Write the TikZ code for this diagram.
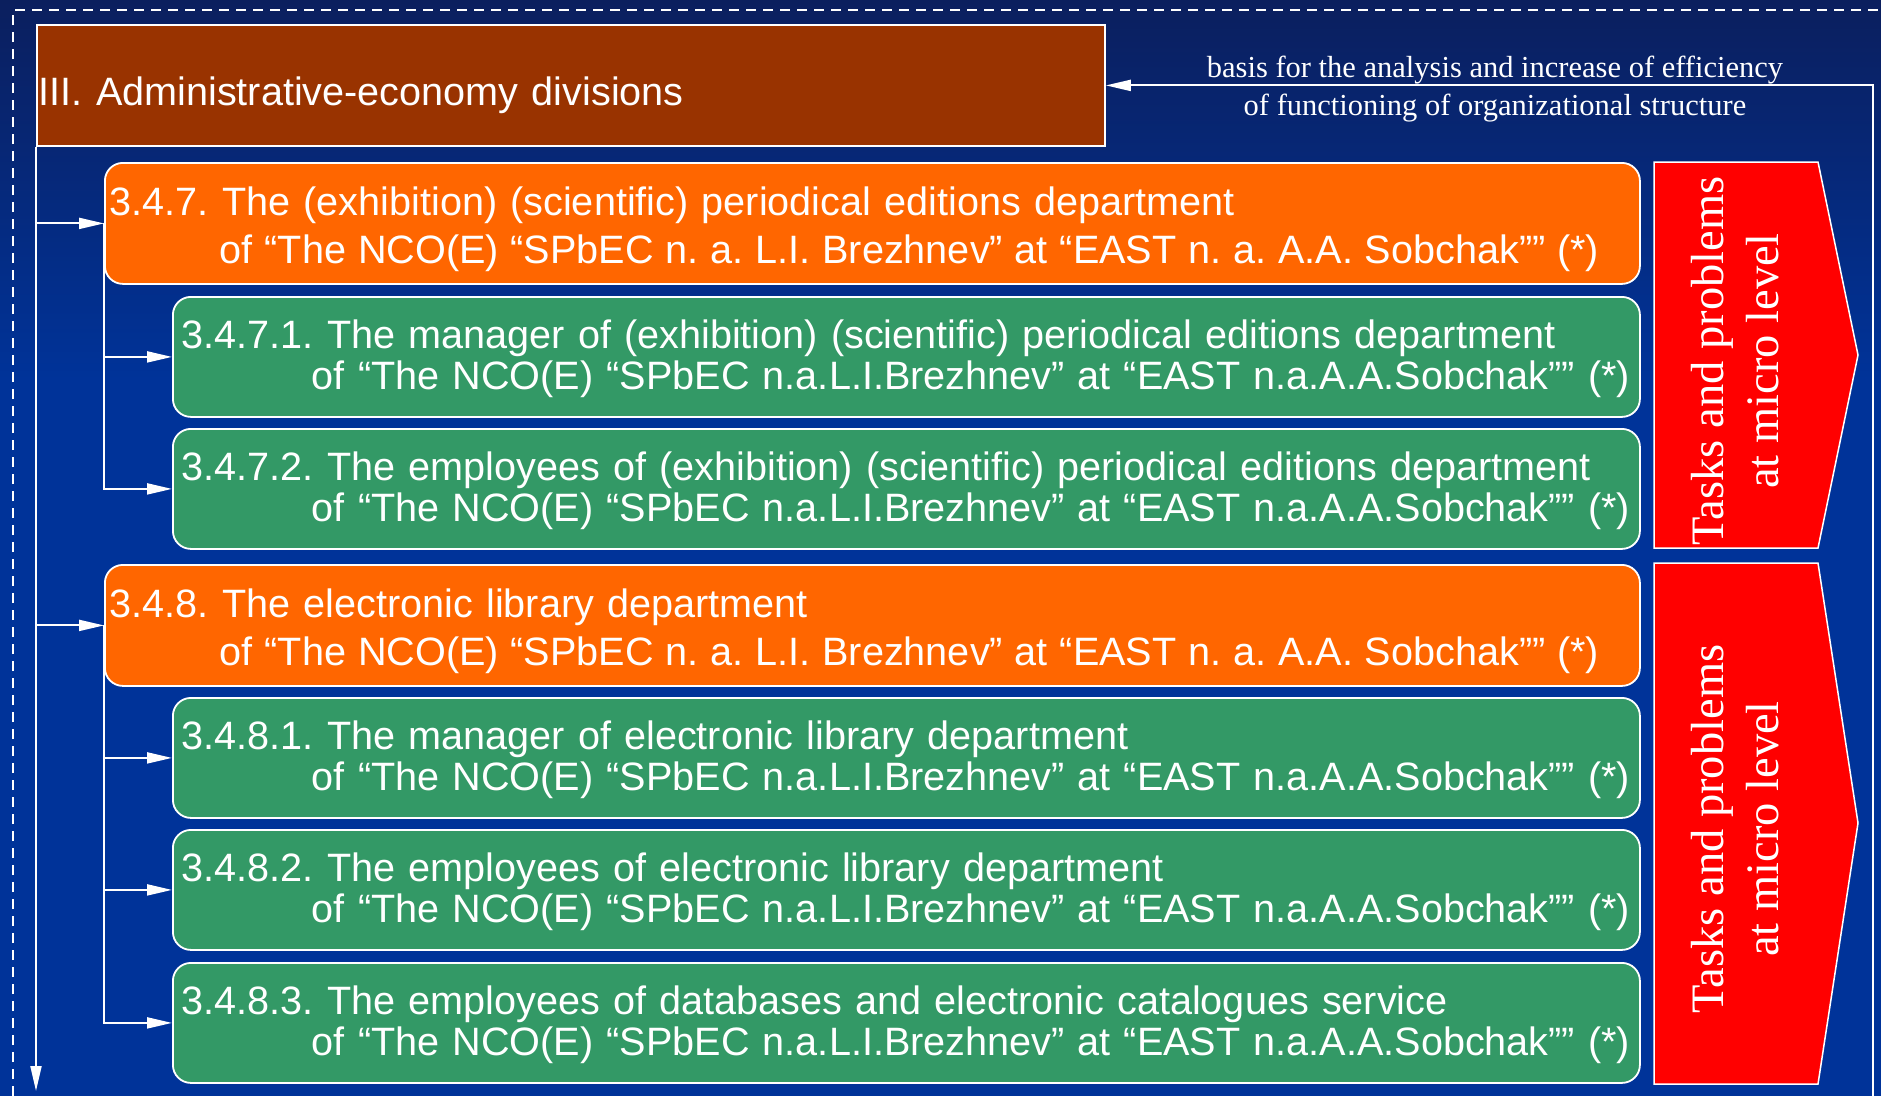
\documentclass[tikz,border=0pt]{standalone}
\usepackage{fontspec}
\setmainfont{Liberation Serif}
\setsansfont{Liberation Sans}
\usetikzlibrary{arrows.meta,calc}
\definecolor{bgblue}{HTML}{003399}
\definecolor{bgtop}{HTML}{0B1F5E}
\definecolor{orangec}{HTML}{FF6600}
\definecolor{brownc}{HTML}{993300}
\definecolor{greenc}{HTML}{339966}
\definecolor{redc}{HTML}{FF0000}
\newcommand{\osecond}[1]{\hspace*{110pt}\mbox{\spaceskip=11.9pt plus 2pt minus 2pt #1}}
\newcommand{\gsecond}[1]{\hspace*{130pt}\mbox{#1}}
\tikzset{
  box/.style={draw=white, line width=1.8pt, rounded corners=18pt, anchor=north west,
    text=white, align=left, inner ysep=0pt},
  obox/.style={box, fill=orangec, minimum width=1535pt, minimum height=121pt,
    inner xsep=5pt, text width=1525pt, font=\sffamily\fontsize{39.6}{48}\selectfont},
  gbox/.style={box, fill=greenc, minimum width=1467pt, minimum height=120pt,
    inner xsep=9pt, text width=1449pt, font=\sffamily\fontsize{39.6}{41}\selectfont},
  headbox/.style={draw=white, line width=1.8pt, fill=brownc, anchor=north west,
    minimum width=1068pt, minimum height=121pt, text width=1064pt, inner xsep=2pt,
    text height=50pt, text depth=9pt,
    align=left, text=white, font=\sffamily\fontsize{39.6}{48}\selectfont},
  conn/.style={draw=white, line width=2pt},
  arr/.style={conn, -{Triangle[length=25pt,width=11pt]}},
  redshape/.style={fill=redc, draw=white, line width=1.5pt},
  redtext/.style={rotate=90, text=white, align=center, inner sep=0pt,
    font=\rmfamily\fontsize{46.5}{55}\selectfont},
  toplabel/.style={text=white, align=center, inner sep=0pt,
    font=\rmfamily\fontsize{30.5}{38}\selectfont},
}
\begin{document}
\frenchspacing
\begin{tikzpicture}[x=1pt,y=-1pt]
\useasboundingbox (0,0) rectangle (1881,1096);
% background
\shade[top color=bgtop, bottom color=bgblue] (0,0) rectangle (1881,380);
\fill[bgblue] (0,379) rectangle (1881,1096);
% dashed frame
\draw[white, line width=1.5pt, dash pattern=on 10pt off 7pt] (13,1096) -- (13,10) -- (1881,10);

% header
\node[headbox] (adm) at (36,24) {III. Administrative-economy divisions};

% department boxes
\node[obox] (o1) at (104,162) {\rule{0pt}{41pt}\mbox{3.4.7. The (exhibition) (scientific) periodical editions department}\\\osecond{of “The NCO(E) “SPbEC n. a. L.I. Brezhnev” at “EAST n. a. A.A. Sobchak”” (*)}};
\node[gbox] (g11) at (172,296) {\rule{0pt}{32pt}\mbox{3.4.7.1. The manager of (exhibition) (scientific) periodical editions department}\\\gsecond{of “The NCO(E) “SPbEC n.a.L.I.Brezhnev” at “EAST n.a.A.A.Sobchak”” (*)}};
\node[gbox] (g12) at (172,428) {\rule{0pt}{32pt}\mbox{3.4.7.2. The employees of (exhibition) (scientific) periodical editions department}\\\gsecond{of “The NCO(E) “SPbEC n.a.L.I.Brezhnev” at “EAST n.a.A.A.Sobchak”” (*)}};
\node[obox] (o2) at (104,564) {\rule{0pt}{41pt}\mbox{3.4.8. The electronic library department}\\\osecond{of “The NCO(E) “SPbEC n. a. L.I. Brezhnev” at “EAST n. a. A.A. Sobchak”” (*)}};
\node[gbox] (g21) at (172,697) {\rule{0pt}{32pt}\mbox{3.4.8.1. The manager of electronic library department}\\\gsecond{of “The NCO(E) “SPbEC n.a.L.I.Brezhnev” at “EAST n.a.A.A.Sobchak”” (*)}};
\node[gbox] (g22) at (172,829) {\rule{0pt}{32pt}\mbox{3.4.8.2. The employees of electronic library department}\\\gsecond{of “The NCO(E) “SPbEC n.a.L.I.Brezhnev” at “EAST n.a.A.A.Sobchak”” (*)}};
\node[gbox] (g23) at (172,962) {\rule{0pt}{32pt}\mbox{3.4.8.3. The employees of databases and electronic catalogues service}\\\gsecond{of “The NCO(E) “SPbEC n.a.L.I.Brezhnev” at “EAST n.a.A.A.Sobchak”” (*)}};

% red arrow shapes
\draw[redshape] (1654,162) -- (1818,162) -- (1858,355) -- (1818,548) -- (1654,548) -- cycle;
\node[redtext] (r1) at (1735,361) {Tasks and problems\\at micro level};
\draw[redshape] (1654,563) -- (1818,563) -- (1858,823) -- (1818,1084) -- (1654,1084) -- cycle;
\node[redtext] (r2) at (1735,829) {Tasks and problems\\at micro level};

% feedback arrow
\coordinate (rbot) at (1873,1096);
\draw[arr] (rbot) |- (adm.east);
\node[toplabel] (lbl) at (1495,89) {basis for the analysis and increase of efficiency\\of functioning of organizational structure};

% main line
\coordinate (mend) at (36,1091);
\draw[arr] (adm.south west) -- (mend);
\draw[arr] (adm.south west |- o1.west) -- (o1.west);
\draw[arr] (adm.south west |- o2.west) -- (o2.west);

% sub branches
\draw[arr] (o1.west) |- (g11.west);
\draw[arr] (o1.west) |- (g12.west);
\draw[arr] (o2.west) |- (g21.west);
\draw[arr] (o2.west) |- (g22.west);
\draw[arr] (o2.west) |- (g23.west);
\end{tikzpicture}
\end{document}
